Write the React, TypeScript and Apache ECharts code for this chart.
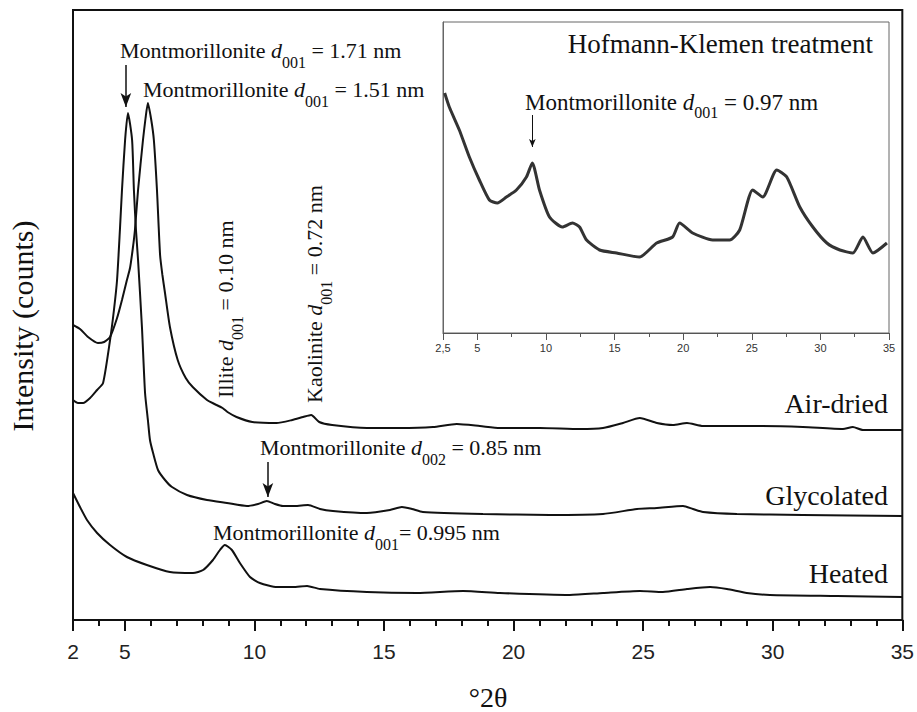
import React, { useEffect, useRef } from "react";
import * as echarts from "echarts";

const SERIF = '"Liberation Serif", "Times New Roman", serif';
const SANS = '"Liberation Sans", Arial, sans-serif';

// ---- main chart data: [°2θ, intensity (arbitrary)] ----
const airDried: [number, number][] = [
  [3.0, 295], [3.27, 291], [3.58, 283], [3.96, 277], [4.2, 278], [4.43, 283], [4.7, 302], [4.89, 320],
  [5.08, 340], [5.2, 352], [5.31, 372], [5.39, 390], [5.51, 430], [5.7, 480], [5.8, 502], [5.89, 517],
  [6.02, 500], [6.12, 480], [6.24, 430], [6.36, 365], [6.45, 345], [6.55, 327], [6.74, 293], [7.04, 260],
  [7.35, 242], [7.62, 233], [8.17, 220], [8.46, 216], [8.77, 212], [8.96, 208], [9.31, 203], [9.92, 198],
  [10.85, 197], [11.46, 200], [11.88, 203], [12.19, 205], [12.5, 198], [13.0, 195], [14.34, 192],
  [15.62, 192], [16.89, 193], [17.81, 196], [18.7, 194], [19.47, 192], [21.02, 192], [22.56, 191],
  [23.45, 192], [24.22, 197], [24.87, 202], [25.53, 197], [26.15, 195], [26.69, 197], [27.31, 194],
  [29.23, 194], [31.16, 193], [32.71, 191], [33.09, 193], [33.48, 190], [35.0, 190],
];

const glycolated: [number, number][] = [
  [3.0, 220], [3.19, 217], [3.39, 217], [3.66, 222], [3.93, 230], [4.16, 237], [4.43, 280], [4.58, 310],
  [4.7, 340], [4.81, 390], [4.89, 430], [5.01, 480], [5.12, 507], [5.28, 480], [5.35, 430], [5.43, 390],
  [5.51, 360], [5.66, 293], [5.78, 227], [5.89, 200], [5.97, 180], [6.09, 167], [6.28, 150], [6.55, 140],
  [6.82, 133], [7.4, 125], [8.17, 120], [8.94, 117], [9.71, 114], [10.14, 116], [10.48, 119], [10.79, 116],
  [11.1, 114], [11.56, 114], [12.07, 115], [12.53, 111], [13.03, 109], [14.34, 107], [15.23, 110],
  [15.69, 113], [16.08, 111], [16.5, 108], [18.82, 106], [21.4, 105], [23.45, 106], [24.76, 111],
  [25.53, 112], [26.54, 114], [26.92, 111], [27.31, 108], [28.62, 106], [31.16, 105], [35.0, 104],
];

const heated: [number, number][] = [
  [3.0, 127], [3.27, 113], [3.54, 100], [3.93, 87], [4.43, 75], [5.08, 63], [5.85, 55], [6.74, 48],
  [7.63, 47], [8.02, 50], [8.4, 60], [8.67, 70], [8.86, 75], [9.13, 70], [9.44, 57], [9.83, 43],
  [10.21, 37], [10.87, 33], [11.49, 33], [12.03, 34], [12.53, 31], [14.34, 28], [16.27, 27], [18.05, 29],
  [19.47, 27], [22.17, 25], [23.45, 27], [24.87, 29], [25.76, 28], [26.69, 31], [27.58, 33], [28.23, 31],
  [29.0, 27], [29.89, 25], [32.48, 24], [35.0, 23],
];

// ---- inset data (Hofmann-Klemen treatment) ----
const hofmannKlemen: [number, number][] = [
  [2.62, 240], [2.96, 226], [3.69, 203], [4.42, 176], [5.15, 153], [5.88, 133], [6.46, 130], [7.12, 136],
  [7.85, 143], [8.58, 156], [9.01, 170], [9.53, 143], [10.26, 116], [11.2, 106], [11.93, 110], [12.45, 106],
  [12.96, 93], [13.91, 83], [15.15, 80], [16.82, 76], [18.07, 90], [19.23, 96], [19.74, 110], [20.69, 100],
  [22.15, 93], [23.39, 93], [24.12, 103], [25.07, 143], [25.8, 136], [26.82, 163], [27.55, 156], [28.5, 126],
  [29.45, 106], [30.47, 90], [31.42, 83], [32.37, 80], [33.1, 96], [33.83, 80], [34.85, 90],
];

// ---- tick labels ----
const mainTickValues = [3, 5, 10, 15, 20, 25, 30, 35];
const mainTickLabels = ["2", "5", "10", "15", "20", "25", "30", "35"];
const insetTickValues = [2.5, 5, 10, 15, 20, 25, 30, 35];
const insetTickLabels = ["2,5", "5", "10", "15", "20", "25", "30", "35"];
const insetMinorTicks = [7.5, 12.5, 17.5, 22.5, 27.5, 32.5];

// ---- arrows (data coordinates) ----
const arrowGly = { x: 5.04, from: 555, to: 513 };
const arrowD002 = { x: 10.52, from: 158, to: 123 };
const arrowInset = { x: 9.01, from: 218, to: 186 };

type Part = { t: string; k: "n" | "i" | "s" };

function measure(text: string, font: string): number {
  const ctx = document.createElement("canvas").getContext("2d");
  if (!ctx) return text.length * 10;
  ctx.font = font;
  return ctx.measureText(text).width;
}

function labelGroup(
  parts: Part[], x: number, y: number, size: number, subSize: number, subDy: number,
  rotation = 0, align: "left" | "right" = "left"
) {
  const fonts = parts.map((p) =>
    p.k === "s" ? { size: subSize, style: "normal" } : { size, style: p.k === "i" ? "italic" : "normal" }
  );
  const fontStr = (i: number) => `${fonts[i].style} normal ${fonts[i].size}px ${SERIF}`;
  const widths = parts.map((p, i) => measure(p.t, fontStr(i)));
  const total = widths.reduce((a, b) => a + b, 0);
  let off = align === "right" ? -total : 0;
  const children: any[] = [];
  parts.forEach((p, i) => {
    const lead = p.t.length - p.t.replace(/^\s+/, "").length;
    const leadW = lead > 0 ? measure(p.t.slice(0, lead), fontStr(i)) : 0;
    children.push({
      type: "text",
      x: off + leadW,
      y: p.k === "s" ? subDy : 0,
      silent: true,
      style: {
        text: p.t.trim(),
        fontSize: fonts[i].size,
        fontStyle: fonts[i].style,
        fontFamily: SERIF,
        fill: "#111",
        align: "left",
        verticalAlign: "middle",
        textAlign: "left",
        textVerticalAlign: "middle",
      },
    });
    off += widths[i];
  });
  return { type: "group", x, y, rotation, silent: true, children };
}

function plainText(text: string, x: number, y: number, size: number, align: string, rotation = 0, family = SERIF) {
  return {
    type: "text",
    x,
    y,
    rotation,
    silent: true,
    style: {
      text,
      fontSize: size,
      fontFamily: family,
      fill: "#111",
      align,
      verticalAlign: "middle",
      textAlign: align,
      textVerticalAlign: "middle",
    },
  };
}

function arrowLine(a: { x: number; from: number; to: number }, w: number, head: [number, number]) {
  return {
    silent: true,
    symbol: ["none", "arrow"],
    symbolSize: head,
    label: { show: false },
    emphasis: { disabled: true },
    lineStyle: { color: "#111", width: w, type: "solid" },
    data: [[{ coord: [a.x, a.from] }, { coord: [a.x, a.to] }]],
  };
}

export default function App() {
  const ref = useRef<HTMLDivElement>(null);
  useEffect(() => {
    if (!ref.current) return;
    const chart = echarts.init(ref.current, undefined, { renderer: "svg" });
    const lineBase = {
      type: "line",
      showSymbol: false,
      symbol: "none",
      smooth: 0.2,
      silent: true,
      emphasis: { disabled: true },
    };
    const option: any = {
      animation: false,
      backgroundColor: "#fff",
      grid: [
        { left: 73, top: 10, width: 830, height: 610, show: true, borderColor: "#111", borderWidth: 2 },
        { left: 443, top: 22, width: 446, height: 311, show: true, borderColor: "#666", borderWidth: 1, backgroundColor: "#fff" },
      ],
      xAxis: [
        {
          gridIndex: 0, type: "value", min: 3, max: 35, interval: 1, position: "bottom",
          axisLine: { show: true, lineStyle: { color: "#111", width: 2 } },
          axisTick: { show: true, inside: false, length: 11, customValues: mainTickValues, lineStyle: { color: "#111", width: 2 } },
          axisLabel: {
            show: true, customValues: mainTickValues,
            formatter: (v: number) => mainTickLabels[mainTickValues.indexOf(v)] ?? "",
            fontFamily: SANS, fontSize: 21, color: "#222", margin: 21,
          },
          splitLine: { show: false },
        },
        {
          gridIndex: 0, type: "value", min: 3, max: 35, interval: 1, position: "bottom",
          axisLine: { show: false },
          axisTick: { show: true, inside: false, length: 6, lineStyle: { color: "#111", width: 2 } },
          axisLabel: { show: false },
          splitLine: { show: false },
        },
        {
          gridIndex: 1, type: "value", min: 2.5, max: 35, interval: 2.5, position: "bottom",
          axisLine: { show: true, lineStyle: { color: "#555", width: 1 } },
          axisTick: { show: true, inside: false, length: 7, customValues: insetTickValues, lineStyle: { color: "#555", width: 1 } },
          axisLabel: {
            show: true, customValues: insetTickValues,
            formatter: (v: number) => insetTickLabels[insetTickValues.indexOf(v)] ?? "",
            fontFamily: SANS, fontSize: 11, color: "#333", margin: 9,
          },
          splitLine: { show: false },
        },
        {
          gridIndex: 1, type: "value", min: 2.5, max: 35, interval: 2.5, position: "bottom",
          axisLine: { show: false },
          axisTick: { show: true, inside: false, length: 4, customValues: insetMinorTicks, lineStyle: { color: "#555", width: 1 } },
          axisLabel: { show: false },
          splitLine: { show: false },
        },
      ],
      yAxis: [
        {
          gridIndex: 0, type: "value", min: 0, max: 610,
          axisLine: { show: true, lineStyle: { color: "#111", width: 2 } },
          axisTick: { show: false }, axisLabel: { show: false }, splitLine: { show: false },
        },
        {
          gridIndex: 1, type: "value", min: 0, max: 311,
          axisLine: { show: true, lineStyle: { color: "#666", width: 1 } },
          axisTick: { show: false }, axisLabel: { show: false }, splitLine: { show: false },
        },
      ],
      series: [
        {
          ...lineBase, name: "Air-dried", xAxisIndex: 0, yAxisIndex: 0, data: airDried,
          lineStyle: { color: "#111", width: 2 },
        },
        {
          ...lineBase, name: "Glycolated", xAxisIndex: 0, yAxisIndex: 0, data: glycolated,
          lineStyle: { color: "#111", width: 2 },
          markLine: { ...arrowLine(arrowGly, 1.5, [8, 14]) },
        },
        {
          ...lineBase, name: "Heated", xAxisIndex: 0, yAxisIndex: 0, data: heated,
          lineStyle: { color: "#111", width: 2 },
          markLine: { ...arrowLine(arrowD002, 1.5, [8, 14]) },
        },
        {
          ...lineBase, name: "Hofmann-Klemen", xAxisIndex: 2, yAxisIndex: 1, data: hofmannKlemen,
          lineStyle: { color: "#333", width: 3 },
          markLine: { ...arrowLine(arrowInset, 1, [5, 8]) },
        },
      ],
      graphic: [
        labelGroup([{ t: "Montmorillonite ", k: "n" }, { t: "d", k: "i" }, { t: "001", k: "s" }, { t: " = 1.71 nm", k: "n" }], 120, 50.5, 22, 16, 12),
        labelGroup([{ t: "Montmorillonite ", k: "n" }, { t: "d", k: "i" }, { t: "001", k: "s" }, { t: " = 1.51 nm", k: "n" }], 143, 89.5, 22, 16, 12),
        labelGroup([{ t: "Montmorillonite ", k: "n" }, { t: "d", k: "i" }, { t: "002", k: "s" }, { t: " = 0.85 nm", k: "n" }], 260, 447.5, 22, 16, 12),
        labelGroup([{ t: "Montmorillonite ", k: "n" }, { t: "d", k: "i" }, { t: "001", k: "s" }, { t: "= 0.995 nm", k: "n" }], 213, 532.5, 22, 16, 12),
        labelGroup([{ t: "Illite ", k: "n" }, { t: "d", k: "i" }, { t: "001", k: "s" }, { t: " = 0.10 nm", k: "n" }], 225.5, 398, 22, 16, 12, Math.PI / 2),
        labelGroup([{ t: "Kaolinite ", k: "n" }, { t: "d", k: "i" }, { t: "001", k: "s" }, { t: " = 0.72 nm", k: "n" }], 314.5, 403, 22, 16, 12, Math.PI / 2),
        labelGroup([{ t: "Montmorillonite ", k: "n" }, { t: "d", k: "i" }, { t: "001", k: "s" }, { t: " = 0.97 nm", k: "n" }], 525, 102, 23, 16, 10.5),
        plainText("Hofmann-Klemen treatment", 873, 44, 27, "right"),
        plainText("Air-dried", 888, 403.5, 28, "right"),
        plainText("Glycolated", 888, 495.5, 28, "right"),
        plainText("Heated", 888, 573.5, 28, "right"),
        plainText("Intensity (counts)", 22.5, 326, 30, "center", Math.PI / 2),
        plainText("°2θ", 488, 697.5, 28, "center"),
      ],
    };
    chart.setOption(option);
    return () => chart.dispose();
  }, []);
  return <div ref={ref} style={{ position: "absolute", left: 0, top: 0, width: 917, height: 712 }} />;
}
